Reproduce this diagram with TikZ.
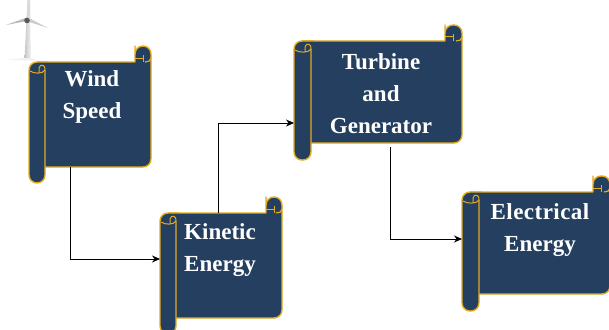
\documentclass[tikz,border=0pt]{standalone}
\usepackage{fontspec}
\setmainfont{Liberation Serif}
\usetikzlibrary{arrows.meta,calc}
\definecolor{scrollblue}{HTML}{243F60}
\definecolor{scrollgold}{HTML}{E2AC1E}
\tikzset{
  x=1pt,y=-1pt,
  scrollline/.style={draw=scrollgold,line width=1.4pt,fill=scrollblue,line join=round},
  scrollcurl/.style={draw=scrollgold,line width=1pt},
  scrollbody/.style={inner sep=0pt,outer sep=0pt,draw=none},
  scrolltext/.style={inner sep=0pt,text=white,align=center,font=\fontsize{23}{32}\selectfont\bfseries},
  flow/.style={draw=black,line width=0.8pt,-{Stealth[length=8pt,width=7pt]}},
}
% name, left, top, right, bottom, roll width
\newcommand{\scrollshape}[6]{%
  \pgfmathsetmacro{\sL}{#2}\pgfmathsetmacro{\sT}{#3}\pgfmathsetmacro{\sR}{#4}\pgfmathsetmacro{\sB}{#5}\pgfmathsetmacro{\sW}{#6}%
  \draw[scrollline,rounded corners=8pt] (\sL+\sW,\sB) -- (\sR,\sB) -- (\sR,\sT-16) -- (\sR-\sW,\sT-16) -- (\sR-\sW,\sT-8) [sharp corners] -- (\sR-\sW,\sT) -- (\sL+8,\sT);
  \draw[scrollline,rounded corners=8pt] (\sL+\sW,\sT+8) -- (\sL+\sW,\sB+\sW) -- (\sL,\sB+\sW) -- (\sL,\sT) -- (\sL+\sW+3,\sT);
  \draw[scrollcurl] (\sL+1,\sT+9) .. controls (\sL+5,\sT+12) and (\sL+\sW-2,\sT+12) .. (\sL+\sW,\sT+8)
     .. controls (\sL+\sW+1,\sT+3) and (\sL+\sW-5,\sT+1) .. (\sL+\sW-6,\sT+6) -- (\sL+\sW-6,\sT+11);
  \draw[scrollcurl] (\sR-\sW,\sT-4) -- (\sR-\sW/2,\sT-4) -- (\sR-\sW/2,\sT-7);
  \draw[scrollcurl] (\sR-\sW/2,\sT-4) -- (\sR-\sW/2,\sT);
  \draw[scrollline,fill=none,line width=1.2pt] (\sR,\sT-4) .. controls (\sR,\sT-1) and (\sR-3,\sT) .. (\sR-6,\sT);
  \node[scrollbody,minimum width=\sR-\sL,minimum height=\sB-\sT] (#1) at ({(\sL+\sR)/2},{(\sT+\sB)/2}) {};
}
\begin{document}
\begin{tikzpicture}
\useasboundingbox (0,0) rectangle (609,329);
\clip (0,0) rectangle (609,329);
% wind turbine
\shade[left color=gray!45,right color=gray!8] (24.5,60) -- (27.5,0) -- (30,0) -- (31,60) -- cycle;
\fill[gray!55] (27,21) -- (6,25) -- (27,17.5) -- cycle;
\fill[gray!40] (27,17) -- (48,28) -- (26,21) -- cycle;
\fill[gray!30] (27,20) -- (27.8,0) -- (30,0) -- (30,20) -- cycle;
\fill[gray!70!black] (27,20.5) circle (2.8);
\fill[gray!12] (6,60) -- (37,60) -- (31,58) -- (24,58) -- cycle;
% scrolls
\scrollshape{windb}{29}{62}{151}{167}{16}
\scrollshape{turbb}{294}{41}{462}{143}{17}
\scrollshape{kinb}{160}{213}{282}{318}{16}
\scrollshape{elecb}{462}{192}{610}{294}{17}
% texts
\node[scrolltext] (windt) at (92,97) {Wind\\Speed};
\node[scrolltext] (turbt) at (381,94) {Turbine\\and\\Generator};
\node[scrolltext] (kint) at (220,250) {Kinetic\\Energy};
\node[scrolltext] (elect) at (540,230) {\addfontfeature{LetterSpace=2}Electrical\\\addfontfeature{LetterSpace=0}Energy};
% connectors
\draw[flow] ([xshift=-20pt]windb.south) |- ([yshift=6.5pt]kinb.west);
\draw[flow] ([xshift=-3pt]kinb.north) |- ([yshift=-31pt]turbb.west);
\draw[flow] ([xshift=12pt,yshift=-4pt]turbb.south) |- ([yshift=4pt]elecb.west);
\end{tikzpicture}
\end{document}
